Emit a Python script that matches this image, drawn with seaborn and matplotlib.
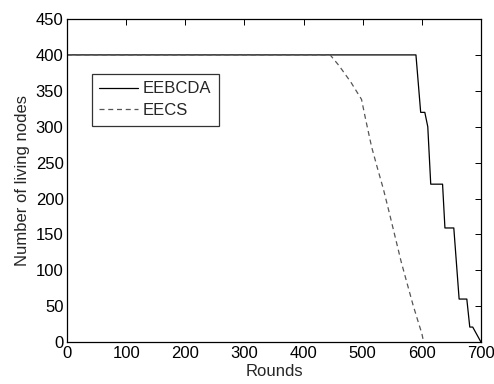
import pandas as pd
import matplotlib
matplotlib.use("Agg")
import matplotlib.pyplot as plt
import seaborn as sns

# EEBCDA (solid) - step-like decline near the end
eebcda_rounds = [0, 590, 598, 605, 610, 615, 635, 639, 654, 663, 676, 681, 686, 700]
eebcda_nodes = [400, 400, 320, 320, 300, 220, 220, 159, 159, 60, 60, 21, 21, 0]

# EECS (dashed) - earlier, smoother decline
eecs_rounds = [0, 445, 460, 480, 498, 505, 515, 525, 535, 545, 555, 565, 575, 585, 595, 600, 603]
eecs_nodes = [400, 400, 385, 362, 338, 310, 272, 242, 213, 180, 146, 112, 82, 52, 25, 12, 0]

series_names = ["EEBCDA", "EECS"]

df = pd.concat([
    pd.DataFrame({"Rounds": eebcda_rounds, "nodes": eebcda_nodes, "algo": series_names[0]}),
    pd.DataFrame({"Rounds": eecs_rounds, "nodes": eecs_nodes, "algo": series_names[1]}),
])

sns.set_style("white")
plt.rcParams["font.family"] = ["Liberation Sans", "DejaVu Sans"]
fs = 12

fig = plt.figure(figsize=(4.94, 3.84), dpi=100)
ax = fig.add_axes([0.1356, 0.109, 0.8381, 0.8415])

sns.lineplot(data=df, x="Rounds", y="nodes", hue="algo", style="algo",
             palette={"EEBCDA": "black", "EECS": "#555555"},
             dashes={"EEBCDA": "", "EECS": (4, 3)},
             linewidth=0.9, ax=ax, sort=False, estimator=None)

ax.set_xlim(0, 700)
ax.set_ylim(0, 450)
ax.set_xticks(range(0, 701, 100))
ax.set_yticks(range(0, 451, 50))
ax.set_xlabel("Rounds", fontsize=fs, labelpad=2)
ax.set_ylabel("Number of living nodes", fontsize=fs, labelpad=4)
ax.tick_params(direction="in", top=True, right=True, length=4, width=0.7,
               colors="black", labelsize=fs)
ax.tick_params(axis="x", pad=3)
ax.tick_params(axis="y", pad=2.5)
for s in ax.spines.values():
    s.set_color("black")
    s.set_linewidth(0.9)

leg = ax.legend(loc="upper left", bbox_to_anchor=(0.06, 0.83), fontsize=fs,
                frameon=True, fancybox=False, edgecolor="black",
                handlelength=2.3, borderpad=0.45, labelspacing=0.4, handletextpad=0.3,
                borderaxespad=0)
leg.get_frame().set_linewidth(0.9)

fig.savefig("out.png", dpi=100)
